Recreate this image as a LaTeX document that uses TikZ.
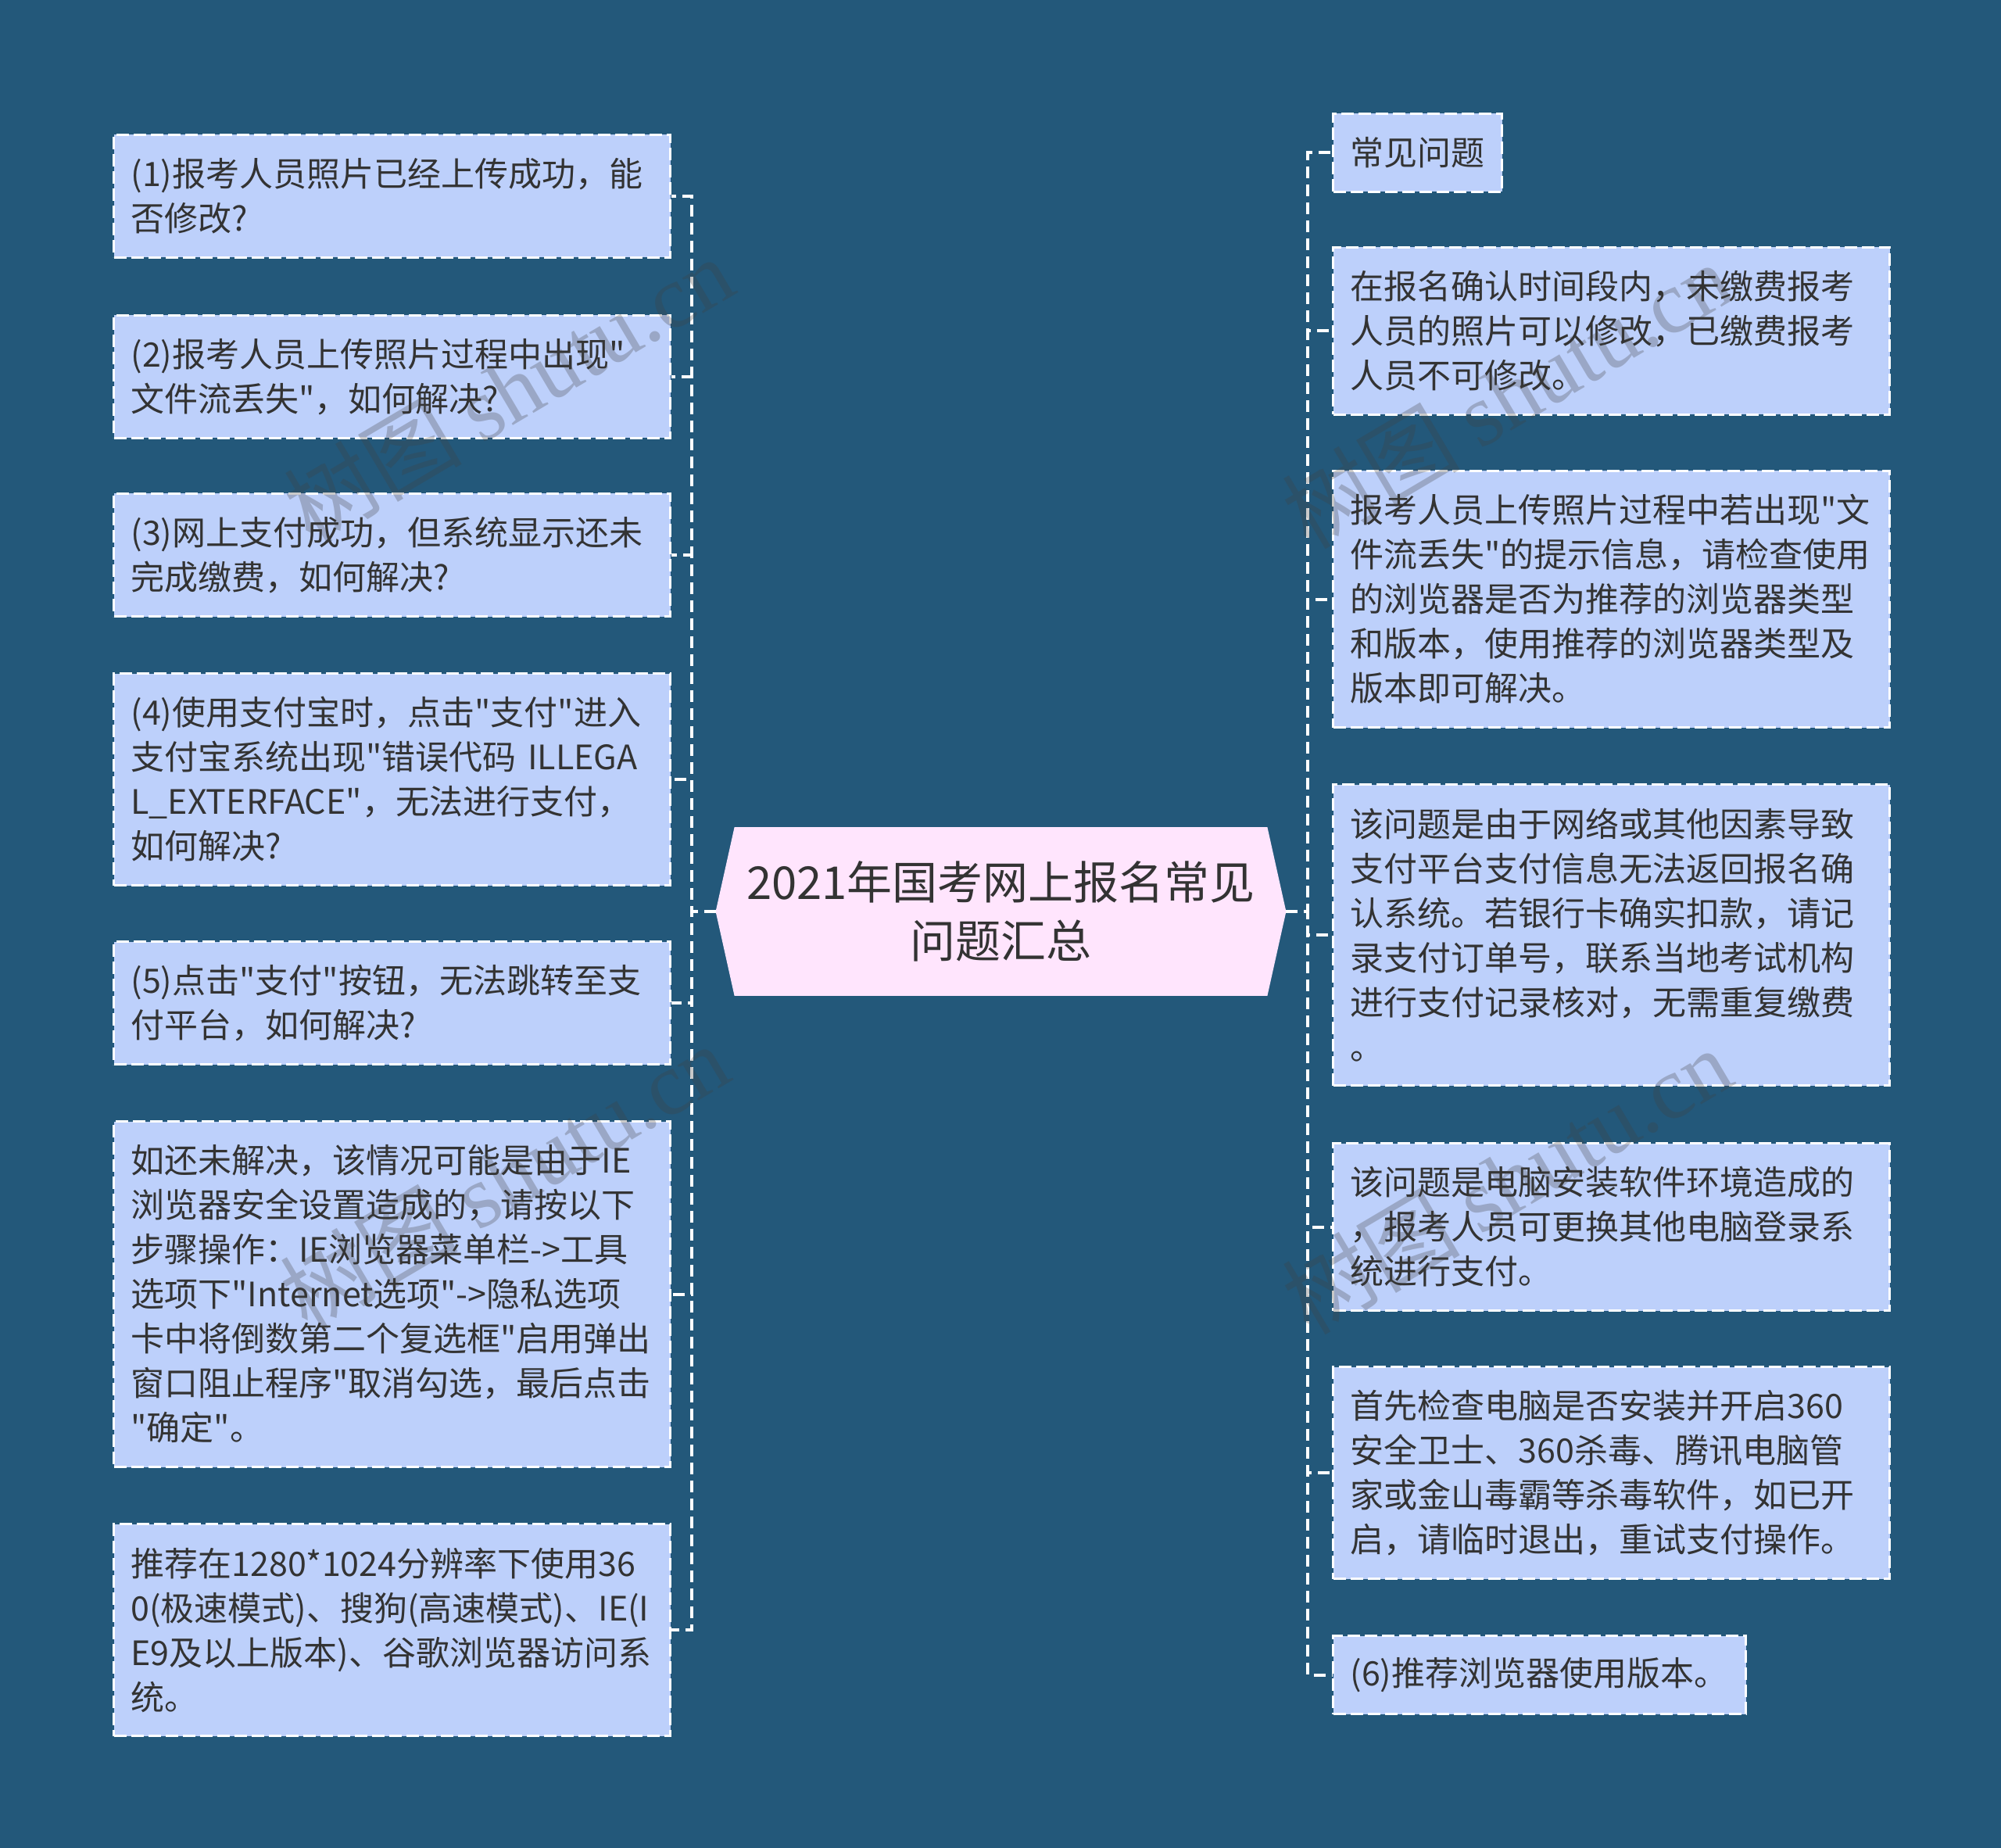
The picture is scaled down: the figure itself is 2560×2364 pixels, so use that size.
\documentclass[tikz,border=0pt]{standalone}
\usepackage{fontspec}
\setmainfont{Noto Sans CJK SC}[Ligatures=TeXOff]
\newfontfamily\wmfont{Liberation Serif}
\usetikzlibrary{calc,backgrounds}
\definecolor{bgc}{RGB}{35,88,122}
\definecolor{boxc}{RGB}{189,208,251}
\definecolor{ctrc}{RGB}{255,229,253}
\definecolor{txtc}{RGB}{51,51,51}
\hyphenpenalty=10000
\exhyphenpenalty=10000
\tikzset{
  leaf/.style={draw=white, fill=boxc, line width=1.5pt, dash pattern=on 8pt off 3pt,
    text=txtc, font=\fontsize{21.5}{28.5}\selectfont, align=left,
    text width=334pt, inner xsep=11pt, inner ysep=0pt, minimum width=356pt, anchor=north west},
  h1/.style={minimum height=50pt},
  h2/.style={minimum height=78.5pt},
  h3/.style={minimum height=107pt},
  h4/.style={minimum height=135.5pt},
  h5/.style={minimum height=164pt},
  h6/.style={minimum height=192.5pt},
  h7/.style={minimum height=221pt},
  conn/.style={draw=white, line width=2pt, dash pattern=on 7.5pt off 4pt},
  ctr/.style={text=txtc, font=\fontsize{29}{37.5}\selectfont, align=center,
    minimum width=340.5pt, minimum height=107.5pt, inner sep=0pt},
  wm/.style={text=black!75, opacity=0.28, font=\fontsize{57}{60}\selectfont, rotate=30.6, inner sep=0pt}
}
\begin{document}
\begin{tikzpicture}[x=0.5pt,y=-0.5pt]
\useasboundingbox (0,0) rectangle (2560,2364);

% center
\node[ctr] (c) at (1280.5,1166) {2021年国考网上报名常见\\问题汇总};
\coordinate (cl) at ($(c.west)+(-24,0)$);
\coordinate (cr) at ($(c.east)+(24,0)$);
\coordinate (tl) at (885,0);
\coordinate (tr) at (1673,0);

% left column
\node[leaf,h2] (L1) at (144,171) {(1)报考人员照片已经上传成功，能\\否修改?};
\node[leaf,h2] (L2) at (144,402) {(2)报考人员上传照片过程中出现"\\文件流丢失"，如何解决?};
\node[leaf,h2] (L3) at (144,630) {(3)网上支付成功，但系统显示还未\\完成缴费，如何解决?};
\node[leaf,h4] (L4) at (144,860) {(4)使用支付宝时，点击"支付"进入\\支付宝系统出现"错误代码~ILLEGA\\L\_EXTERFACE"，无法进行支付，\\如何解决?};
\node[leaf,h2] (L5) at (144,1203) {(5)点击"支付"按钮，无法跳转至支\\付平台，如何解决?};
\node[leaf,h7] (L6) at (144,1433) {如还未解决，该情况可能是由于IE\\浏览器安全设置造成的，请按以下\\步骤操作：IE浏览器菜单栏->工具\\选项下"Internet选项"->隐私选项\\卡中将倒数第二个复选框"启用弹出\\窗口阻止程序"取消勾选，最后点击\\"确定"。};
\node[leaf,h4] (L7) at (144,1948) {推荐在1280*1024分辨率下使用36\\0(极速模式)、搜狗(高速模式)、IE(I\\E9及以上版本)、谷歌浏览器访问系\\统。};

% right column
\node[leaf,h1,text width=86pt,minimum width=108pt] (R1) at (1704,144) {常见问题};
\node[leaf,h3] (R2) at (1704,315) {在报名确认时间段内，未缴费报考\\人员的照片可以修改，已缴费报考\\人员不可修改。};
\node[leaf,h5] (R3) at (1704,601) {报考人员上传照片过程中若出现"文\\件流丢失"的提示信息，请检查使用\\的浏览器是否为推荐的浏览器类型\\和版本，使用推荐的浏览器类型及\\版本即可解决。};
\node[leaf,h6] (R4) at (1704,1002) {该问题是由于网络或其他因素导致\\支付平台支付信息无法返回报名确\\认系统。若银行卡确实扣款，请记\\录支付订单号，联系当地考试机构\\进行支付记录核对，无需重复缴费\\。};
\node[leaf,h3] (R5) at (1704,1461) {该问题是电脑安装软件环境造成的\\，报考人员可更换其他电脑登录系\\统进行支付。};
\node[leaf,h4] (R6) at (1704,1747) {首先检查电脑是否安装并开启360\\安全卫士、360杀毒、腾讯电脑管\\家或金山毒霸等杀毒软件，如已开\\启，请临时退出，重试支付操作。};
\node[leaf,h1,text width=242pt,minimum width=264pt] (R7) at (1704,2091) {(6)推荐浏览器使用版本。};

\begin{pgfonlayer}{background}
\fill[bgc] (0,0) rectangle (2560,2364);
\fill[ctrc] (c.north west) -- (cl) -- (c.south west) -- (c.south east) -- (cr) -- (c.north east) -- cycle;
\end{pgfonlayer}

% connectors
\foreach \n in {L1,L2,L3,L4,L5,L6,L7}
  \draw[conn] (cl) -- (cl -| tl) |- (\n.east);
\foreach \n in {R1,R2,R3,R4,R5,R6,R7}
  \draw[conn] (cr) -- (cr -| tr) |- (\n.west);

% watermarks
\node[wm] (w1) at (650,498) {树图 {\wmfont shutu.cn}};
\node[wm] (w2) at (1927,505) {树图 {\wmfont shutu.cn}};
\node[wm] (w3) at (645,1505) {树图 {\wmfont shutu.cn}};
\node[wm] (w4) at (1927,1510) {树图 {\wmfont shutu.cn}};
\end{tikzpicture}
\end{document}
